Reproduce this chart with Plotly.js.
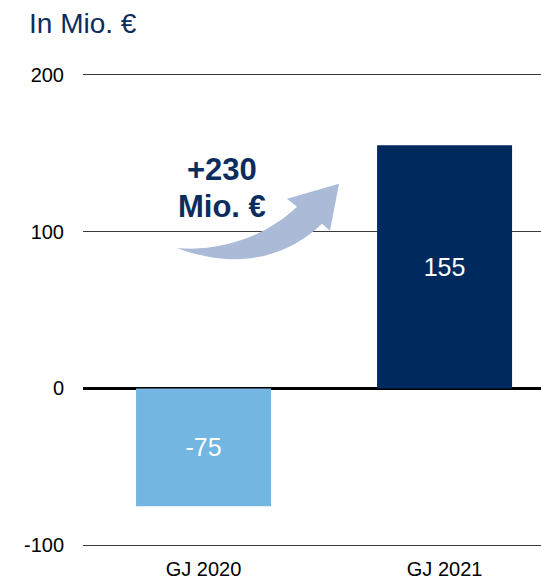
<!DOCTYPE html>
<html>
<head>
<meta charset="utf-8">
<script src="https://cdn.plot.ly/plotly-3.0.1.min.js"></script>
<style>
  html, body { margin: 0; padding: 0; background: #fff; }
  #chart { width: 541px; height: 579px; }
</style>
</head>
<body>
<div id="chart"></div>
<script>
var categories = ['GJ 2020', 'GJ 2021'];
var values = [-75, 155];
var barLabels = ['-75', '155'];
var barColors = ['#72b6e1', '#002a5e'];
var yTicks = [-100, 0, 100, 200];
var yTickText = ['-100', '0', '100', '200'];
var deltaLines = ['+230', 'Mio. €'];

// plot area in pixels (value 200 at y=75, -100 at y=545, padded 1 unit so edge gridlines show)
var k = 470 / 300;
var L = 83, R = 541, T = 75 - k, B = 545 + k;
function px(x) { return (x - L) / (R - L); }
function py(y) { return (B - y) / (B - T); }
function pt(x, y) { return px(x).toFixed(4) + ',' + py(y).toFixed(4); }

var arrowPath = 'M ' + pt(177, 248) +
  ' C ' + pt(215, 252) + ' ' + pt(262, 240) + ' ' + pt(297, 207) +
  ' L ' + pt(287, 199) +
  ' L ' + pt(339, 184) +
  ' L ' + pt(330, 231) +
  ' L ' + pt(322, 224) +
  ' C ' + pt(290, 255) + ' ' + pt(240, 272) + ' ' + pt(177, 248) + ' Z';

var font = 'Arial, Liberation Sans, sans-serif';

var bars = {
  x: categories,
  y: values,
  type: 'bar',
  width: 0.56,
  marker: {color: barColors},
  text: barLabels,
  textposition: 'inside',
  insidetextanchor: 'middle',
  textfont: {family: font, size: 25, color: '#ffffff'},
  hoverinfo: 'none'
};

var layout = {
  width: 541, height: 579,
  margin: {l: L, r: 541 - R, t: T, b: 579 - B, pad: 0},
  paper_bgcolor: '#fff', plot_bgcolor: '#fff',
  showlegend: false,
  title: {
    text: 'In Mio. €',
    font: {family: font, size: 28, color: '#0b2d5e'},
    x: 29 / 541, xref: 'container', xanchor: 'left',
    y: 1 - 23 / 579, yref: 'container', yanchor: 'middle'
  },
  xaxis: {
    range: [-0.5, 1.4],
    showgrid: false, zeroline: false, showline: false,
    ticks: '', ticklabelstandoff: 8,
    tickfont: {family: font, size: 20, color: '#000'},
    fixedrange: true
  },
  yaxis: {
    range: [-101, 201],
    tickvals: yTicks, ticktext: yTickText,
    showgrid: true, gridcolor: '#3a3a3a', gridwidth: 1.3,
    zeroline: true, zerolinecolor: '#000', zerolinewidth: 2.6,
    showline: false, ticks: '', ticklabelstandoff: 18,
    tickfont: {family: font, size: 20, color: '#000'},
    fixedrange: true
  },
  shapes: [{
    type: 'path', xref: 'paper', yref: 'paper',
    path: arrowPath,
    fillcolor: '#abbbd7', line: {width: 0},
    layer: 'above'
  }],
  annotations: [{
    xref: 'paper', yref: 'paper', xanchor: 'center', yanchor: 'middle',
    x: px(222), y: py(170),
    text: '<b>' + deltaLines[0] + '</b>',
    showarrow: false,
    font: {family: font, size: 31, color: '#0b2d5e'}
  }, {
    xref: 'paper', yref: 'paper', xanchor: 'center', yanchor: 'middle',
    x: px(222), y: py(207),
    text: '<b>' + deltaLines[1] + '</b>',
    showarrow: false,
    font: {family: font, size: 31, color: '#0b2d5e'}
  }]
};

Plotly.newPlot('chart', [bars], layout, {displayModeBar: false, staticPlot: true});
</script>
</body>
</html>
